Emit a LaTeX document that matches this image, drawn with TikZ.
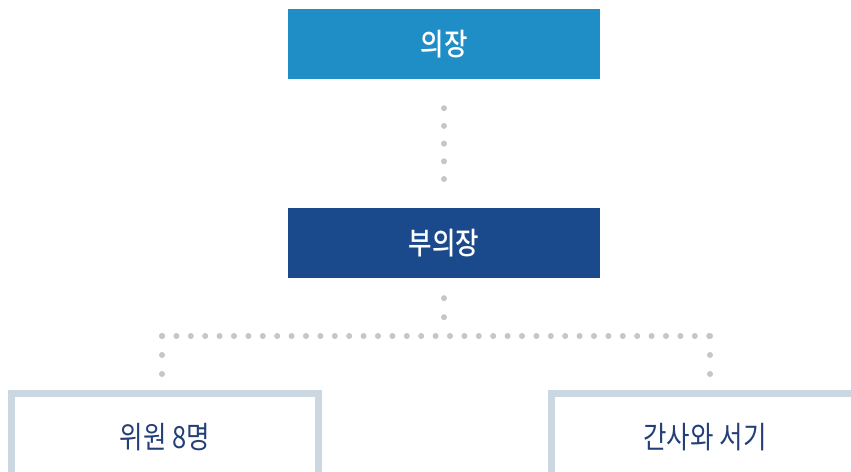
\documentclass[tikz,border=0pt]{standalone}
\usepackage{fontspec}
\usepackage{graphicx}
\setmainfont{Noto Sans CJK KR}
\newfontfamily\krmed{Noto Sans CJK KR Medium}
\newcommand{\tallt}[1]{\scalebox{1.02}[1.22]{#1}}
\definecolor{topblue}{HTML}{1F8DC6}
\definecolor{midblue}{HTML}{1B4A8C}
\definecolor{frame}{HTML}{CBD8E2}
\definecolor{txtblue}{HTML}{243F78}
\definecolor{dotgrey}{HTML}{C6C6C8}
\tikzset{
  x=1pt, y=-1pt,
  solidbox/.style={rectangle, minimum width=312pt, minimum height=70pt, inner sep=0pt, text=white, font=\krmed\fontsize{25}{30}\selectfont},
  framebox/.style={rectangle, draw=frame, line width=7pt, fill=white, minimum width=307pt, minimum height=87pt, inner sep=0pt, text=txtblue, font=\fontsize{25}{30}\selectfont},
  dotline/.style={draw=dotgrey, line width=6pt, line cap=round},
}
\begin{document}
\begin{tikzpicture}
\useasboundingbox (0,0) rectangle (851,471);
\clip (0,0) rectangle (851,471);
\fill[white] (0,0) rectangle (851,471);
\node[solidbox, fill=topblue] (chair) at (444,44) {\tallt{의장}};
\node[solidbox, fill=midblue] (vice) at (444,243) {\tallt{부의장}};
\node[framebox] (members) at (165,437) {\tallt{위원 8명}};
\node[framebox] (sec) at (705,437) {\tallt{간사와 서기}};
\coordinate (hub) at (444,336);
\coordinate (lt) at (162,336);
\coordinate (rt) at (710,336);
\draw[dotline, dash pattern=on 0pt off 17.7pt, shorten <=29pt, shorten >=28.5pt] (chair.south) -- (vice.north);
\draw[dotline, dash pattern=on 0pt off 19pt, shorten <=20pt] (vice.south) -- (hub);
\draw[dotline, dash pattern=on 0pt off 14.4pt] (lt) -- (rt);
\draw[dotline, dash pattern=on 0pt off 19pt, shorten >=15pt] (lt) -- (members.north -| lt);
\draw[dotline, dash pattern=on 0pt off 19pt, shorten >=15pt] (rt) -- (sec.north -| rt);
\end{tikzpicture}
\end{document}
